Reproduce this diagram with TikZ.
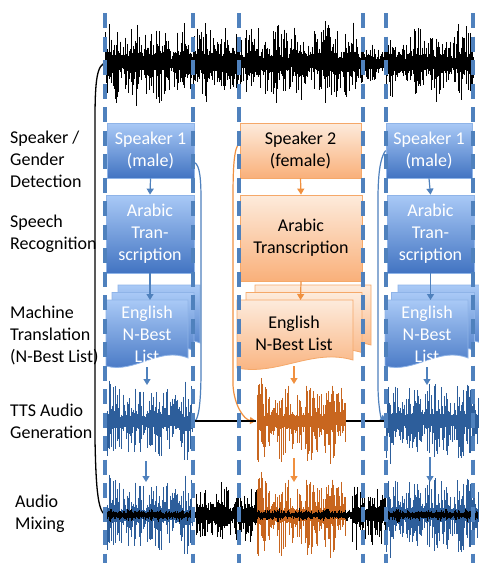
\documentclass[tikz,border=0pt]{standalone}
\usepackage{fontspec}
\setmainfont{Carlito}
\usetikzlibrary{arrows.meta}
\definecolor{dashblue}{HTML}{4F81BD}
\definecolor{wblue}{HTML}{2D5E9B}
\definecolor{worange}{HTML}{C8661F}
\definecolor{btop}{HTML}{A9C9F6}
\definecolor{bbot}{HTML}{4274C2}
\definecolor{bedge}{HTML}{8FB4E8}
\definecolor{otop}{HTML}{FDEBDC}
\definecolor{obot}{HTML}{F9B07A}
\definecolor{oedge}{HTML}{F5A869}
\definecolor{oarrow}{HTML}{F0903F}
\newcommand\wavedraw[8]{% x0, n, yc, core, spike, color, seed, power
  \pgfmathsetseed{#7}%
  \foreach \i in {0,...,#2}{%
    \pgfmathsetmacro\xx{#1+0.8*\i}%
    \pgfmathsetmacro\en{0.85+0.15*sin(12*\i+#7)+0.1*sin(29*\i)}%
    \pgfmathsetmacro\ua{\en*(#4*(0.5+0.5*rnd)+#5*rnd^#8)}%
    \pgfmathsetmacro\ub{\en*(#4*(0.5+0.5*rnd)+#5*rnd^#8)}%
    \draw[#6,line width=1pt] (\xx,#3-\ua) -- (\xx,#3+\ub);
  }}
\newcommand\docshape[5]{% x0, ytop, w, h, style
  \path[#5] (#1,#2) -- (#1+#3,#2) -- (#1+#3,#2+#4-10)
    .. controls (#1+0.65*#3,#2+#4-22) and (#1+0.35*#3,#2+#4+6) .. (#1,#2+#4-2) -- cycle;}
\tikzset{
  lbl/.style={anchor=west, align=left, font=\fontsize{18}{22}\selectfont, inner sep=0pt},
  bluebox/.style={draw=bedge, line width=0.8pt, top color=btop, bottom color=bbot,
    text=white, align=center, font=\fontsize{18}{22}\selectfont, inner sep=0pt},
  orbox/.style={draw=oedge, line width=0.8pt, top color=otop, bottom color=obot,
    text=black, align=center, font=\fontsize{18}{22}\selectfont, inner sep=0pt},
  bluedoc/.style={draw=bedge, line width=0.8pt, top color=btop, bottom color=bbot},
  ordoc/.style={draw=oedge, line width=0.8pt, top color=otop, bottom color=obot},
  doctext/.style={align=center, font=\fontsize{18}{22}\selectfont, inner sep=0pt},
  barrow/.style={-{Triangle[width=7pt,length=6pt]}, dashblue, line width=1.2pt},
  oarr/.style={-{Triangle[width=7pt,length=6pt]}, oarrow, line width=1.2pt},
  vdash/.style={dashblue, line width=3.5pt, dash pattern=on 15pt off 8.5pt},
}
\begin{document}
\begin{tikzpicture}[x=1pt,y=-1pt]
\clip (0,0) rectangle (479,563);
\fill[white] (0,0) rectangle (479,563);

% top waveform
\wavedraw{105}{321}{63}{13}{32}{black}{5}{2.5}
\wavedraw{362}{30}{63}{9}{14}{black}{7}{2.5}
\wavedraw{386}{109}{63}{12}{30}{black}{9}{2.5}

% TTS waveforms
\wavedraw{107}{107}{421}{9}{36}{wblue}{21}{2}
\wavedraw{257}{111}{421}{9}{36}{worange}{33}{2}
\wavedraw{386}{115}{421}{9}{36}{wblue}{45}{2}

% mixing waveforms
\wavedraw{107}{107}{515}{9}{36}{wblue}{21}{2}
\wavedraw{257}{111}{515}{9}{36}{worange}{33}{2}
\wavedraw{386}{115}{515}{9}{36}{wblue}{45}{2}
\wavedraw{107}{463}{515}{3.5}{4}{black}{55}{2.5}
\wavedraw{196}{75}{515}{11}{24}{black}{61}{2.5}
\wavedraw{352}{42}{515}{11}{24}{black}{67}{2.5}

% named coordinates on the waveforms
\coordinate (wtop) at (106,63);
\coordinate (mixL) at (107,515);
\coordinate (t1r) at (195,421);
\coordinate (t2l) at (256,421);
\coordinate (t2r) at (346,421);
\coordinate (t3l) at (386,421);

% labels
\node[lbl] (l1) at (10,159) {Speaker /\\Gender\\Detection};
\node[lbl] (l2) at (10,234) {Speech\\Recognition};
\node[lbl] (l3) at (10,335) {Machine\\Translation\\(N-Best List)};
\node[lbl] (l4) at (10,421) {TTS Audio\\Generation};
\node[lbl] (l5) at (15,514) {Audio\\Mixing};

% boxes
\node[bluebox, minimum width=87pt, minimum height=55pt] (s1) at (150.5,150.5) {Speaker 1\\(male)};
\node[bluebox, minimum width=88pt, minimum height=78pt] (a1) at (150,234) {Arabic\\Tran-\\scription};
\node[orbox, minimum width=121pt, minimum height=55pt] (s2) at (300.5,150.5) {Speaker 2\\(female)};
\node[orbox, minimum width=122pt, minimum height=86pt] (a2) at (301,238) {Arabic\\Transcription};
\node[bluebox, minimum width=86pt, minimum height=55pt] (s3) at (429,150.5) {Speaker 1\\(male)};
\node[bluebox, minimum width=87pt, minimum height=78pt] (a3) at (430.5,234) {Arabic\\Tran-\\scription};

% document stacks
\docshape{118}{285}{82}{68}{bluedoc}
\docshape{112}{292.5}{82}{68}{bluedoc}
\docshape{106}{300}{82}{68}{bluedoc}
\node[doctext, text=white] (d1) at (147,334) {English\\N-Best\\List};
\docshape{255}{285}{116}{70}{ordoc}
\docshape{246}{292.5}{116}{70}{ordoc}
\docshape{237}{300}{116}{70}{ordoc}
\node[doctext, text=black] (d2) at (294,333) {English\\N-Best List};
\docshape{398}{285}{83}{68}{bluedoc}
\docshape{391.5}{292.5}{83}{68}{bluedoc}
\docshape{385}{300}{83}{68}{bluedoc}
\node[doctext, text=white] (d3) at (427,334) {English\\N-Best\\List};

\coordinate (d1t) at (150,300);
\coordinate (d2t) at (300.5,300);
\coordinate (d3t) at (430.5,300);
\coordinate (d1b) at (147,367);
\coordinate (d2b) at (294,366);
\coordinate (d3b) at (427,367);
\coordinate (t1t) at (147,385);
\coordinate (t2t) at (294,384);
\coordinate (t3t) at (427,385);
\coordinate (t1b) at (146,461);
\coordinate (t2b) at (294,458);
\coordinate (t3b) at (430,457);
\coordinate (m1t) at (146,482);
\coordinate (m2t) at (294,482);
\coordinate (m3t) at (430,482);

% arrows
\draw[barrow] (s1.south) -- (a1.north);
\draw[barrow] (a1.south) -- (d1t);
\draw[barrow] (d1b) -- (t1t);
\draw[barrow] (t1b) -- (m1t);
\draw[oarr] (s2.south) -- (a2.north);
\draw[oarr] (a2.south) -- (d2t);
\draw[oarr] (d2b) -- (t2t);
\draw[oarr] (t2b) -- (m2t);
\draw[barrow] (s3.south) -- (a3.north);
\draw[barrow] (a3.south) -- (d3t);
\draw[barrow] (d3b) -- (t3t);
\draw[barrow] (t3b) -- (m3t);

% long connectors
\draw[black, line width=1.3pt] (wtop) .. controls (97,64) and (95,80) .. (95,120)
  -- (95,440) .. controls (96,490) and (98,515) .. (mixL);
\draw[dashblue, line width=1.2pt] ([yshift=-12pt]s1.east) .. controls (200,165) and (201,180) .. (201,200)
  -- (201,370) .. controls (201,400) and (199,418) .. (t1r);
\draw[oarr] ([yshift=8pt]s2.west) .. controls (234,148) and (233,165) .. (233,200)
  -- (233,385) .. controls (234,405) and (244,420) .. (t2l);
\draw[barrow] (s3.west) .. controls (380,158) and (378,175) .. (378,200)
  -- (378,385) .. controls (378,405) and (381,418) .. (t3l);
\draw[black, line width=1.5pt] (t1r) -- (t2l);
\draw[black, line width=1.5pt] (t2r) -- (t3l);

% dashed column separators
\foreach \x in {105,193,239,363,386,473} \draw[vdash] (\x,13) -- (\x,563);
\end{tikzpicture}
\end{document}
